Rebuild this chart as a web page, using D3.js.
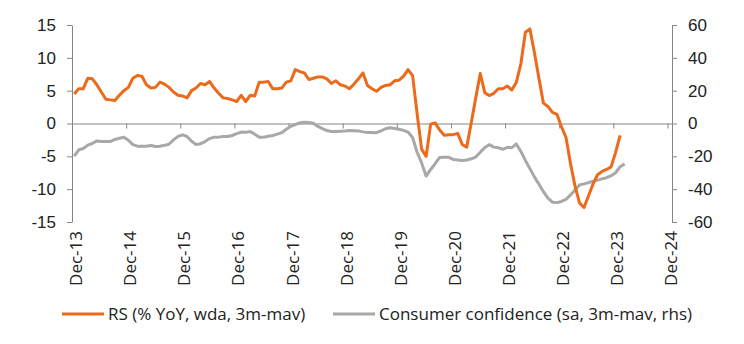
<!DOCTYPE html>
<html>
<head>
<meta charset="utf-8">
<script src="https://cdn.jsdelivr.net/npm/d3@7"></script>
<style>
  body { margin: 0; background: #fff; }
  svg { display: block; font-family: "Open Sans", sans-serif; }
  .axis path, .axis line { stroke: #868686; }
  .axis text, .legend text { fill: #222; font-size: 17px; }
</style>
</head>
<body>
<div id="chart"></div>
<script>
// month labels on the x axis (one tick every December)
const xLabels = ["Dec-13", "Dec-14", "Dec-15", "Dec-16", "Dec-17", "Dec-18",
                 "Dec-19", "Dec-20", "Dec-21", "Dec-22", "Dec-23", "Dec-24"];
const leftTicks = [-15, -10, -5, 0, 5, 10, 15];
const rightTicks = [-60, -40, -20, 0, 20, 40, 60];

// RS (% YoY, wda, 3m-mav), monthly from Dec-13
const retailSales = [
  4.5, 5.3, 5.3, 6.9, 6.8, 5.9, 4.8, 3.7, 3.6, 3.5, 4.3, 5.0,
  5.5, 6.9, 7.3, 7.2, 5.9, 5.4, 5.5, 6.3, 6.0, 5.5, 4.8, 4.3,
  4.2, 3.9, 5.0, 5.4, 6.1, 5.9, 6.4, 5.4, 4.6, 3.9, 3.8, 3.6,
  3.35, 4.3, 3.35, 4.3, 4.2, 6.3, 6.3, 6.4, 5.3, 5.3, 5.4, 6.3,
  6.5, 8.2, 7.9, 7.7, 6.7, 6.9, 7.1, 7.1, 6.8, 6.1, 6.5, 5.9,
  5.7, 5.3, 6.0, 6.8, 7.7, 5.8, 5.3, 4.9, 5.5, 5.8, 5.9, 6.5,
  6.6, 7.2, 8.2, 7.3, 1.5, -3.9, -5.0, -0.1, 0.1, -1.0, -1.8, -1.7,
  -1.7, -1.5, -3.2, -3.6, 0.1, 3.9, 7.6, 4.7, 4.25, 4.6, 5.3, 5.3,
  5.7, 5.1, 6.3, 9.1, 13.9, 14.4, 10.8, 6.9, 3.1, 2.6, 1.7, 1.4,
  -0.5, -2.1, -6.1, -9.5, -12.1, -12.8, -11.0, -9.2, -7.8, -7.3, -7.0, -6.6,
  -4.4, -1.8
];

// Consumer confidence (sa, 3m-mav, rhs), monthly from Dec-13
const confidence = [
  -19.9, -16.0, -15.2, -13.2, -12.2, -10.6, -11.0, -11.0, -11.0, -9.7, -9.0, -8.4,
  -10.2, -12.9, -13.8, -13.8, -13.8, -13.4, -14.0, -13.9, -13.3, -12.6, -10.0, -7.8,
  -6.9, -7.9, -10.8, -12.8, -12.3, -11.0, -9.2, -8.3, -8.3, -7.9, -7.9, -7.3,
  -6.2, -5.2, -5.4, -4.9, -6.5, -8.3, -8.4, -7.8, -7.3, -6.5, -5.6, -3.5,
  -1.7, -0.6, 0.4, 0.7, 0.6, 0.1, -1.8, -3.1, -4.3, -4.9, -4.8, -4.7,
  -4.6, -4.3, -4.4, -4.5, -5.1, -5.5, -5.5, -5.6, -4.5, -3.2, -2.6, -3.0,
  -3.5, -4.2, -5.2, -8.5, -17.5, -24.0, -32.0, -28.0, -24.5, -20.7, -20.5, -20.6,
  -21.9, -22.2, -22.5, -22.2, -21.5, -20.4, -17.5, -14.6, -12.9, -14.4, -14.8, -15.7,
  -14.5, -14.7, -12.5, -17.0, -22.5, -27.5, -32.5, -37.0, -41.5, -45.5, -47.9, -48.2,
  -47.5, -46.2, -43.5, -40.5, -37.5, -36.8, -36.0, -35.2, -34.5, -33.7, -33.0, -31.8,
  -30.0, -26.3, -24.6
];

const width = 744, height = 344;
const margin = { top: 25, right: 72, bottom: 122, left: 72 };
const orange = "#eb6a1c", grey = "#a8a8a8";

const svg = d3.select("#chart").append("svg")
  .attr("width", width)
  .attr("height", height);

// months since Dec-13, axis runs to Jan-25
const x = d3.scaleLinear().domain([0, 133]).range([margin.left, width - margin.right]);
const yLeft = d3.scaleLinear().domain([-15, 15]).range([height - margin.bottom, margin.top]);
const yRight = d3.scaleLinear().domain([-60, 60]).range([height - margin.bottom, margin.top]);

// left axis
svg.append("g")
  .attr("class", "axis")
  .attr("transform", `translate(${margin.left},0)`)
  .call(d3.axisLeft(yLeft).tickValues(leftTicks).tickSize(5).tickSizeOuter(0)
    .tickPadding(11).tickFormat(d => String(d)));

// right axis
svg.append("g")
  .attr("class", "axis")
  .attr("transform", `translate(${width - margin.right},0)`)
  .call(d3.axisRight(yRight).tickValues(rightTicks).tickSize(5).tickSizeOuter(0)
    .tickPadding(11).tickFormat(d => String(d)));

// x axis on the zero line, labels go at the bottom
const monthTicks = xLabels.map((d, i) => i * 12);
svg.append("g")
  .attr("class", "axis")
  .attr("transform", `translate(0,${yLeft(0)})`)
  .call(d3.axisBottom(x).tickValues(monthTicks).tickSize(5).tickSizeOuter(0).tickFormat(""));

svg.append("g")
  .attr("class", "axis")
  .selectAll("text")
  .data(xLabels)
  .enter()
  .append("text")
  .attr("transform", (d, i) => `translate(${x(i * 12) + 10},231) rotate(-90)`)
  .attr("text-anchor", "end")
  .text(d => d);

// lines
const lineLeft = d3.line().x((d, i) => x(i + 0.5)).y(d => yLeft(d));
const lineRight = d3.line().x((d, i) => x(i + 0.5)).y(d => yRight(d));

svg.append("path")
  .datum(confidence)
  .attr("fill", "none")
  .attr("stroke", grey)
  .attr("stroke-width", 3)
  .attr("stroke-linejoin", "round")
  .attr("d", lineRight);

svg.append("path")
  .datum(retailSales)
  .attr("fill", "none")
  .attr("stroke", orange)
  .attr("stroke-width", 3)
  .attr("stroke-linejoin", "round")
  .attr("d", lineLeft);

// legend
const legend = [
  { label: "RS (% YoY, wda, 3m-mav)", color: orange, x: 62 },
  { label: "Consumer confidence (sa, 3m-mav, rhs)", color: grey, x: 333 }
];
const lg = svg.append("g").attr("class", "legend");
legend.forEach(item => {
  lg.append("line")
    .attr("x1", item.x).attr("x2", item.x + 42)
    .attr("y1", 314).attr("y2", 314)
    .attr("stroke", item.color)
    .attr("stroke-width", 3);
  lg.append("text")
    .attr("x", item.x + 46)
    .attr("y", 320)
    .text(item.label);
});
</script>
</body>
</html>
